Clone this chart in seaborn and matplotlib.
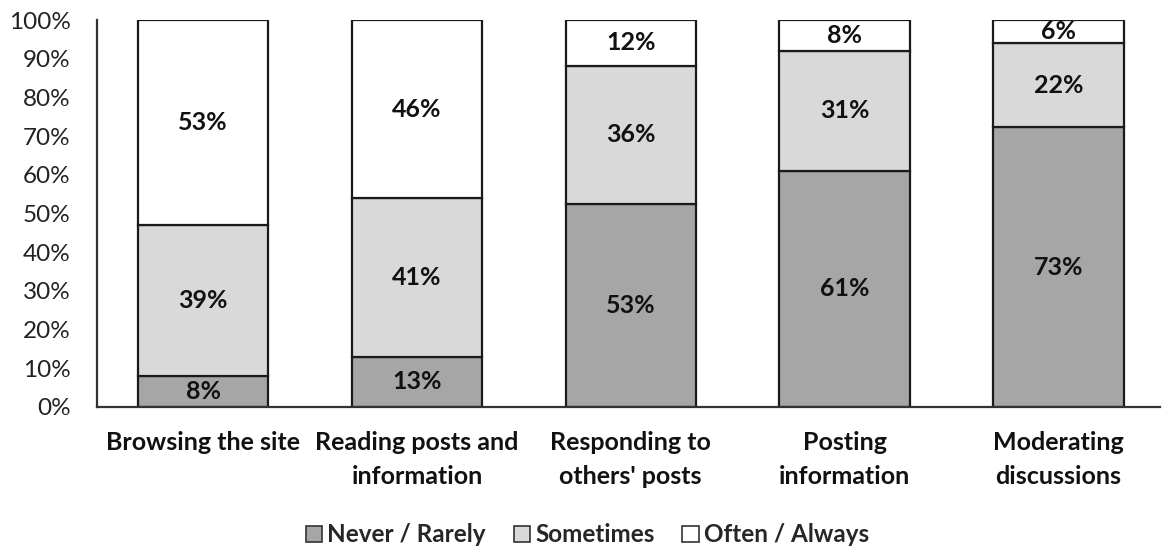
import matplotlib
matplotlib.use("Agg")
import matplotlib.pyplot as plt
import seaborn as sns
import numpy as np
from matplotlib.patches import Patch

# Activity categories and response shares (%)
categories = [
    "Browsing the site",
    "Reading posts and\ninformation",
    "Responding to\nothers' posts",
    "Posting\ninformation",
    "Moderating\ndiscussions",
]
never_rarely = [8, 13, 53, 61, 73]
sometimes = [39, 41, 36, 31, 22]
often_always = [53, 46, 12, 8, 6]

series_names = ["Never / Rarely", "Sometimes", "Often / Always"]
series_values = [never_rarely, sometimes, often_always]
series_colors = ["#a6a6a6", "#d9d9d9", "#ffffff"]
y_ticks = list(range(0, 101, 10))

sns.set_theme(style="white")
plt.rcParams["font.family"] = ["Lato", "DejaVu Sans"]

fig = plt.figure(figsize=(11.63, 5.48), dpi=100)
ax = fig.add_axes([0.0834, 0.2573, 0.914, 0.7062])

# 100% stacked: each column is scaled to its own total
totals = np.sum(np.array(series_values, dtype=float), axis=0)
bottom = np.zeros(len(categories))
for name, vals, col in zip(series_names, series_values, series_colors):
    share = np.array(vals, dtype=float) / totals * 100
    sns.barplot(x=categories, y=share, bottom=bottom, color=col,
                edgecolor="#1a1a1a", linewidth=1.6, width=0.61,
                saturation=1, ax=ax)
    cont = ax.containers[-1]
    ax.bar_label(cont, labels=[f"{v}%" for v in vals], label_type="center",
                 fontsize=18, fontweight="bold", color="#111111")
    bottom = bottom + share

ax.set_xlim(-0.496, 4.475)
ax.set_ylim(0, 100)
ax.set_yticks(y_ticks)
ax.set_yticklabels([f"{t}%" for t in y_ticks], fontsize=17.5, color="#222222")
ax.tick_params(axis="y", length=0, pad=19)
ax.tick_params(axis="x", length=0, pad=17)
ax.set_xticks(range(len(categories)))
ax.set_xticklabels(categories, fontsize=18, fontweight="bold",
                   color="#111111", linespacing=1.6)

for side in ["top", "right"]:
    ax.spines[side].set_visible(False)
for side in ["left", "bottom"]:
    ax.spines[side].set_color("#333333")
    ax.spines[side].set_linewidth(1.6)
ax.set_xlabel("")
ax.set_ylabel("")

handles = [Patch(facecolor=c, edgecolor="#333333", linewidth=1.2)
           for c in series_colors]
fig.legend(handles, series_names, loc="lower center", ncol=3,
           bbox_to_anchor=(0.505, -0.037), frameon=False,
           prop={"size": 17.5, "weight": "bold"},
           handlelength=0.68, handleheight=0.68, handletextpad=0.2,
           columnspacing=1.15)

fig.savefig("out.png", dpi=100)
